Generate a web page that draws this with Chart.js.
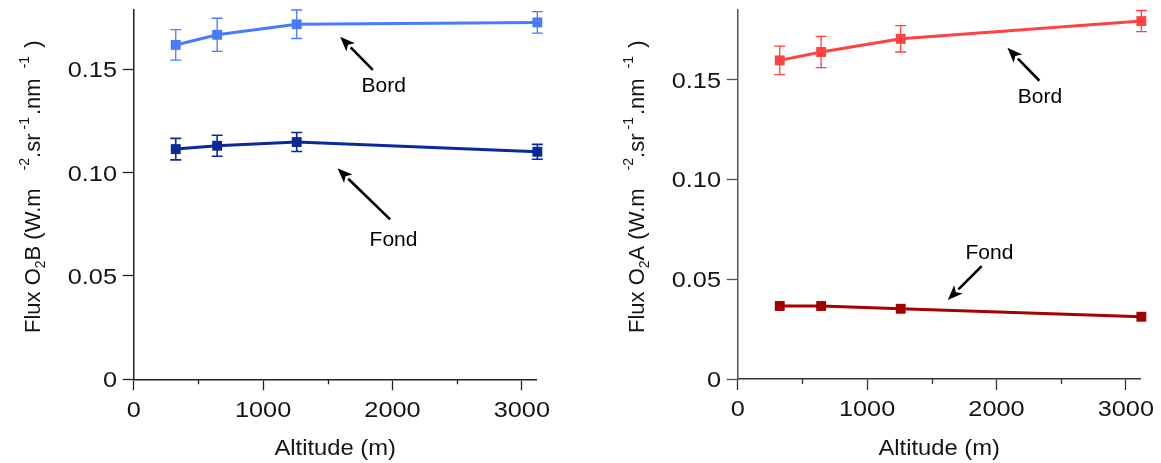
<!DOCTYPE html>
<html>
<head>
<meta charset="utf-8">
<script src="https://cdn.jsdelivr.net/npm/chart.js@4.4.1/dist/chart.umd.min.js"></script>
<style>
  html, body { margin: 0; padding: 0; background: #ffffff; }
  #wrap { position: relative; width: 1161px; height: 463px; overflow: hidden; background: #fff; }
  canvas { position: absolute; top: 0; }
</style>
</head>
<body>
<div id="wrap">
  <canvas id="cB" width="600" height="463" style="left:0px"></canvas>
  <canvas id="cA" width="561" height="463" style="left:600px"></canvas>
</div>
<script>
// ---------- data ----------
const altitudes = [325, 645, 1260, 3120];

const bordO2B    = [0.1618, 0.1667, 0.1718, 0.1727];
const bordO2BErr = [0.0074, 0.0080, 0.0069, 0.0052];
const fondO2B    = [0.1114, 0.1130, 0.1148, 0.1101];
const fondO2BErr = [0.0052, 0.0051, 0.0046, 0.0036];

const bordO2A    = [0.1597, 0.1639, 0.1705, 0.1794];
const bordO2AErr = [0.0071, 0.0078, 0.0066, 0.0053];
const fondO2A    = [0.0366, 0.0366, 0.0352, 0.0312];
const fondO2AErr = [0, 0, 0, 0];

const xTickValues = [0, 1000, 2000, 3000];
const xTickLabels = ['0', '1000', '2000', '3000'];
const xMinorTicks = [500, 1500, 2500];
const yTickValues = [0, 0.05, 0.10, 0.15];
const yTickLabels = ['0', '0.05', '0.10', '0.15'];

const seriesNames = ['Bord', 'Fond'];
const xTitle = 'Altitude (m)';

// ---------- helpers ----------
const FONT = '"Liberation Sans", Arial, Helvetica, sans-serif';
const TXT = '#141414';

function pts(xs, ys) { return xs.map((x, i) => ({ x: x, y: ys[i] })); }

// text with a horizontal stretch (the reference lettering is slightly wide)
function stretchedText(ctx, text, x, y, align, size, sx) {
  ctx.save();
  ctx.translate(x, y);
  ctx.scale(sx, 1);
  ctx.font = size + 'px ' + FONT;
  ctx.fillStyle = TXT;
  ctx.textAlign = align;
  ctx.textBaseline = 'alphabetic';
  ctx.fillText(text, 0, 0);
  ctx.restore();
}

function drawArrow(ctx, x1, y1, x2, y2) {
  const ang = Math.atan2(y2 - y1, x2 - x1);
  const hl = 15, hw = 6;
  const bx = x2 - hl * Math.cos(ang), by = y2 - hl * Math.sin(ang);
  ctx.save();
  ctx.strokeStyle = '#000'; ctx.fillStyle = '#000'; ctx.lineWidth = 2.6;
  ctx.beginPath(); ctx.moveTo(x1, y1); ctx.lineTo(bx, by); ctx.stroke();
  ctx.beginPath();
  ctx.moveTo(x2, y2);
  ctx.lineTo(bx + hw * Math.sin(ang), by - hw * Math.cos(ang));
  ctx.lineTo(x2 - (hl * 0.75) * Math.cos(ang), y2 - (hl * 0.75) * Math.sin(ang));
  ctx.lineTo(bx - hw * Math.sin(ang), by + hw * Math.cos(ang));
  ctx.closePath(); ctx.fill();
  ctx.restore();
}

// rich rotated y title: segments [text, kind, gapBefore]
function drawYTitle(ctx, segs, baseX, startY) {
  ctx.save();
  ctx.translate(baseX, startY);
  ctx.rotate(-Math.PI / 2);
  ctx.fillStyle = TXT;
  ctx.textBaseline = 'alphabetic';
  ctx.textAlign = 'left';
  let pos = 0;
  for (const s of segs) {
    pos += s[2] || 0;
    let size = 22, dy = 0;
    if (s[1] === 'sub') { size = 14; dy = 5; }
    if (s[1] === 'sup') { size = 14; dy = -11; }
    ctx.font = size + 'px ' + FONT;
    ctx.fillText(s[0], pos, dy);
    pos += ctx.measureText(s[0]).width;
  }
  ctx.restore();
}

const decorPlugin = {
  id: 'decor',
  beforeDatasetsDraw(chart) {
    const o = chart.options.plugins.decor;
    const ctx = chart.ctx, xs = chart.scales.x, ys = chart.scales.y;
    const ca = chart.chartArea;
    // minor ticks
    ctx.save();
    ctx.strokeStyle = o.axisColor; ctx.lineWidth = 1.3;
    for (const v of xMinorTicks) {
      const px = Math.round(xs.getPixelForValue(v)) + 0.5;
      ctx.beginPath(); ctx.moveTo(px, ca.bottom); ctx.lineTo(px, ca.bottom + 5); ctx.stroke();
    }
    ctx.restore();
    // error bars
    chart.data.datasets.forEach((ds, di) => {
      const err = o.errors[di];
      ctx.save();
      ctx.strokeStyle = ds.errColor; ctx.lineWidth = ds.errWidth;
      ds.data.forEach((p, i) => {
        const e = err[i];
        if (!e) return;
        const px = xs.getPixelForValue(p.x);
        const yt = ys.getPixelForValue(p.y + e), yb = ys.getPixelForValue(p.y - e);
        ctx.beginPath();
        ctx.moveTo(px, yt); ctx.lineTo(px, yb);
        ctx.moveTo(px - 5.5, yt); ctx.lineTo(px + 5.5, yt);
        ctx.moveTo(px - 5.5, yb); ctx.lineTo(px + 5.5, yb);
        ctx.stroke();
      });
      ctx.restore();
    });
  },
  afterDraw(chart) {
    const o = chart.options.plugins.decor;
    const ctx = chart.ctx, xs = chart.scales.x, ys = chart.scales.y;
    const ca = chart.chartArea;
    // tick labels
    yTickValues.forEach((v, i) => {
      stretchedText(ctx, yTickLabels[i], ca.left - 16.7, ys.getPixelForValue(v) + 7.9, 'right', 22, 1.15);
    });
    xTickValues.forEach((v, i) => {
      stretchedText(ctx, xTickLabels[i], xs.getPixelForValue(v), ca.bottom + 37.3, 'center', 22, 1.15);
    });
    // annotations
    for (const a of o.notes) {
      drawArrow(ctx, xs.getPixelForValue(a.tail[0]), ys.getPixelForValue(a.tail[1]),
                     xs.getPixelForValue(a.head[0]), ys.getPixelForValue(a.head[1]));
      ctx.save();
      ctx.font = '21px ' + FONT; ctx.fillStyle = '#000';
      ctx.textAlign = 'center'; ctx.textBaseline = 'middle';
      ctx.fillText(a.text, xs.getPixelForValue(a.x), ys.getPixelForValue(a.y));
      ctx.restore();
    }
    // x title
    stretchedText(ctx, xTitle, (ca.left + ca.right) / 2, 455, 'center', 22, 1.08);
    // y title
    drawYTitle(ctx, o.yTitle, ca.left - 94, 333);
  }
};

function noPad(s) { s.paddingTop = 0; s.paddingBottom = 0; s.paddingLeft = 0; s.paddingRight = 0; }

function makeChart(id, cfg) {
  return new Chart(document.getElementById(id), {
    type: 'line',
    data: {
      datasets: [
        {
          label: seriesNames[0], data: pts(altitudes, cfg.bord),
          borderColor: cfg.c1, backgroundColor: cfg.c1, borderWidth: 3,
          pointStyle: 'rect', pointRadius: 7, pointBorderWidth: 0, pointBackgroundColor: cfg.c1,
          tension: 0, clip: false, errColor: cfg.c1, errWidth: 1.3
        },
        {
          label: seriesNames[1], data: pts(altitudes, cfg.fond),
          borderColor: cfg.c2, backgroundColor: cfg.c2, borderWidth: 3,
          pointStyle: 'rect', pointRadius: 7, pointBorderWidth: 0, pointBackgroundColor: cfg.c2,
          tension: 0, clip: false, errColor: cfg.c2, errWidth: 1.6
        }
      ]
    },
    options: {
      responsive: false, animation: false, devicePixelRatio: 1, events: [],
      layout: { padding: { top: cfg.top, right: cfg.right, left: 0, bottom: 0 } },
      plugins: {
        legend: { display: false }, tooltip: { enabled: false },
        decor: { errors: [cfg.bordErr, cfg.fondErr], notes: cfg.notes, yTitle: cfg.yTitle, axisColor: cfg.xAxisColor }
      },
      scales: {
        x: {
          type: 'linear', min: 0, max: 3115,
          afterBuildTicks: s => { s.ticks = xTickValues.map(v => ({ value: v })); },
          afterFit: s => { s.height = 463 - cfg.bottom; noPad(s); },
          ticks: { display: false },
          grid: { display: true, drawOnChartArea: false, drawTicks: true, tickLength: 11, tickColor: cfg.xAxisColor, tickWidth: 1.3 },
          border: { display: true, color: cfg.xAxisColor, width: 1.5 }
        },
        y: {
          type: 'linear', min: 0, max: cfg.ymax,
          afterBuildTicks: s => { s.ticks = yTickValues.map(v => ({ value: v })); },
          afterFit: s => { s.width = cfg.left; noPad(s); },
          ticks: { display: false },
          grid: { display: true, drawOnChartArea: false, drawTicks: true, tickLength: 11, tickColor: cfg.yAxisColor, tickWidth: 1.3 },
          border: { display: true, color: cfg.yAxisColor, width: 1.5 }
        }
      }
    },
    plugins: [decorPlugin]
  });
}

makeChart('cB', {
  bord: bordO2B, bordErr: bordO2BErr, fond: fondO2B, fondErr: fondO2BErr,
  c1: '#4a7bff', c2: '#0a2a9a', ymax: 0.1787,
  left: 133.7, right: 600 - 536.7, top: 10, bottom: 379.3,
  xAxisColor: '#222', yAxisColor: '#222',
  notes: [
    { text: seriesNames[0], x: 1933, y: 0.1419, tail: [1848, 0.1497], head: [1596, 0.1658] },
    { text: seriesNames[1], x: 2008, y: 0.0671, tail: [1982, 0.0774], head: [1575, 0.1021] }
  ],
  yTitle: [['Flux O', 'main'], ['2', 'sub'], ['B (W.m', 'main'], ['-2', 'sup', 18], ['.sr', 'main'],
           ['-1', 'sup', 4], ['.nm', 'main', 2], ['-1', 'sup', 10], [')', 'main', 8]]
});

makeChart('cA', {
  bord: bordO2A, bordErr: bordO2AErr, fond: fondO2A, fondErr: fondO2AErr,
  c1: '#ff4242', c2: '#a50000', ymax: 0.1853,
  left: 137.7, right: 561 - 540.7, top: 9.3, bottom: 379,
  xAxisColor: '#333', yAxisColor: '#555',
  notes: [
    { text: seriesNames[0], x: 2336, y: 0.1413, tail: [2332, 0.1495], head: [2085, 0.1660] },
    { text: seriesNames[1], x: 1946, y: 0.0629, tail: [1886, 0.0566], head: [1624, 0.0396] }
  ],
  yTitle: [['Flux O', 'main'], ['2', 'sub'], ['A (W.m', 'main'], ['-2', 'sup', 18], ['.sr', 'main'],
           ['-1', 'sup', 4], ['.nm', 'main', 2], ['-1', 'sup', 10], [')', 'main', 8]]
});
</script>
</body>
</html>
